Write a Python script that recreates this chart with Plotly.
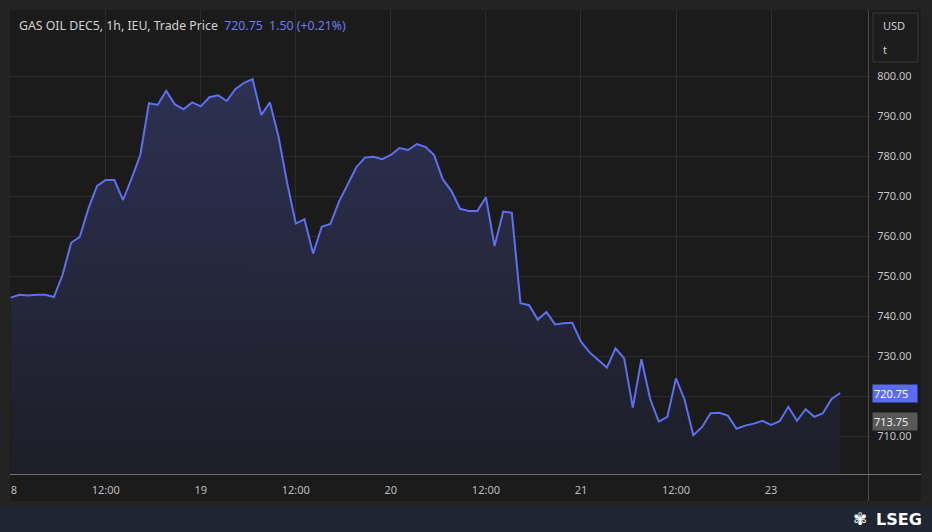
import plotly.graph_objects as go

# ---- data ----
prices = [
    744.6, 745.3, 745.1, 745.3, 745.3, 744.75, 750.25, 758.3, 759.8, 766.9,
    772.5, 774.0, 774.0, 769.0, 774.4, 780.25, 793.2, 792.75, 796.3, 792.9,
    791.7, 793.4, 792.4, 794.7, 795.2, 793.75, 796.7, 798.3, 799.2, 790.25,
    793.4, 784.8, 773.2, 763.1, 764.2, 755.6, 762.3, 763.0, 768.6, 773.1,
    777.2, 779.6, 779.8, 779.2, 780.25, 782.0, 781.5, 783.0, 782.3, 780.25,
    774.2, 771.3, 766.8, 766.25, 766.25, 769.7, 757.5, 766.1, 765.8, 743.2,
    742.7, 739.1, 741.0, 737.9, 738.2, 738.3, 733.6, 730.9, 729.1, 727.1,
    731.9, 729.4, 717.1, 729.2, 719.3, 713.6, 714.8, 724.4, 719.0, 710.2,
    712.2, 715.7, 715.8, 715.1, 711.8, 712.6, 713.1, 713.8, 712.8, 713.7,
    717.3, 713.8, 716.7, 714.8, 715.7, 719.25, 720.75,
]
bar_index = list(range(len(prices)))
tick_positions = [0, 11, 22, 33, 44, 55, 66, 77, 88]
tick_labels = ["18", "12:00", "19", "12:00", "20", "12:00", "21", "12:00", "23"]
price_ticks = [710, 720, 730, 740, 750, 760, 770, 780, 790, 800]
# the 720.00 label is hidden behind the last-price marker in the original
price_tick_labels = ["710.00", "", "730.00", "740.00", "750.00", "760.00",
                     "770.00", "780.00", "790.00", "800.00"]
last_price = 720.75
ref_price = 713.75
change = 1.50
change_pct = 0.21
title_text = "GAS OIL DEC5, 1h, IEU, Trade Price"

W, H = 932, 532
L, R, T, B = 10, 64, 10, 58
PW, PH = W - L - R, H - T - B


def px(x):
    return (x - L) / PW


def py(y):
    return (H - B - y) / PH


FRAME = "#232323"
PANEL = "#1b1b1b"
GRID = "#2c2c2c"
LINE = "#5e6ff0"
TXT = "#c4c4c4"
FONT = "Noto Sans"

fig = go.Figure()
fig.add_trace(go.Scatter(
    x=bar_index, y=prices, mode="lines",
    line=dict(color=LINE, width=2),
    fill="tozeroy",
    fillgradient=dict(type="vertical", start=700.5, stop=800,
                      colorscale=[[0, "#1d1e27"], [1, "#2d3153"]]),
    hoverinfo="skip", showlegend=False,
))

shapes = [
    dict(type="rect", xref="paper", yref="paper", x0=px(10), x1=px(921), y0=py(501), y1=py(10),
         fillcolor=PANEL, line=dict(width=0), layer="below"),
    dict(type="rect", xref="paper", yref="paper", x0=px(0), x1=px(932), y0=py(532), y1=py(507),
         fillcolor="#1e2533", line=dict(width=0), layer="below"),
    dict(type="line", xref="paper", yref="paper", x0=px(868.5), x1=px(868.5), y0=py(501), y1=py(10),
         line=dict(color="#4c4c4c", width=1), layer="above"),
    dict(type="line", xref="paper", yref="paper", x0=px(10), x1=px(921), y0=py(474.5), y1=py(474.5),
         line=dict(color="#707070", width=1), layer="above"),
    dict(type="rect", xref="paper", yref="paper", x0=px(873), x1=px(918), y0=py(62), y1=py(13),
         fillcolor="#1d1d1d", line=dict(color="#3a3a3a", width=1), layer="above"),
    dict(type="rect", xref="paper", yref="paper", x0=px(0), x1=px(10), y0=py(502), y1=py(475),
         fillcolor=FRAME, line=dict(width=0), layer="above"),
]

annotations = [
    dict(xref="paper", yref="paper", x=px(17), y=py(25), xanchor="left", yanchor="middle",
         showarrow=False, font=dict(family=FONT, size=12.3, color="#d2d2d2"),
         text=(f"{title_text}  <span style='color:#6c7cf2'>{last_price:.2f}  "
               f"{change:.2f} (+{change_pct:.2f}%)</span>")),
    dict(xref="paper", yref="paper", x=px(881), y=py(26), xanchor="left", yanchor="middle",
         showarrow=False, font=dict(family=FONT, size=11, color="#d0d0d0"), text="USD"),
    dict(xref="paper", yref="paper", x=px(881), y=py(50), xanchor="left", yanchor="middle",
         showarrow=False, font=dict(family=FONT, size=11, color="#d0d0d0"), text="t"),
    dict(xref="paper", yref="y", x=px(872), y=ref_price, xanchor="left", yanchor="middle",
         showarrow=False, font=dict(family=FONT, size=11, color="#ececec"),
         text=f"{ref_price:.2f}", bgcolor="#585858", borderpad=1, width=42, align="left"),
    dict(xref="paper", yref="y", x=px(872), y=last_price, xanchor="left", yanchor="middle",
         showarrow=False, font=dict(family=FONT, size=11, color="#ffffff"),
         text=f"{last_price:.2f}", bgcolor="#5a6cf7", borderpad=1, width=42, align="left"),
    dict(xref="paper", yref="paper", x=px(924), y=py(519), xanchor="right", yanchor="middle",
         showarrow=False, font=dict(family="DejaVu Sans", size=16, color="#ffffff"),
         text="<b>LSEG</b>"),
    dict(xref="paper", yref="paper", x=px(869), y=py(519), xanchor="right", yanchor="middle",
         showarrow=False, font=dict(family="DejaVu Sans", size=17, color="#ffffff"),
         text="✾"),
]

fig.update_layout(
    width=W, height=H, autosize=False,
    margin=dict(l=L, r=R, t=T, b=B, pad=0),
    paper_bgcolor=FRAME, plot_bgcolor=PANEL,
    font=dict(family=FONT, size=11, color=TXT),
    shapes=shapes, annotations=annotations,
    hovermode=False,
    xaxis=dict(range=[-0.08, 99.22], tickvals=tick_positions, ticktext=tick_labels,
               showgrid=True, gridcolor=GRID, gridwidth=1, zeroline=False,
               ticks="outside", ticklen=6, tickcolor="rgba(0,0,0,0)",
               tickfont=dict(family=FONT, size=11, color="#bdbdbd"),
               showline=False, fixedrange=True, automargin=False),
    yaxis=dict(range=[700.5, 816.5], side="right", tickvals=price_ticks,
               ticktext=price_tick_labels,
               showgrid=True, gridcolor=GRID, gridwidth=1, zeroline=False,
               ticks="outside", ticklen=6, tickcolor="rgba(0,0,0,0)",
               tickfont=dict(family=FONT, size=11, color="#c4c4c4"),
               showline=False, fixedrange=True, automargin=False),
)

fig.write_html(
    "out.html",
    config={"displayModeBar": False},
    post_script="document.body.style.margin='0';document.body.style.background='#232323';",
)
